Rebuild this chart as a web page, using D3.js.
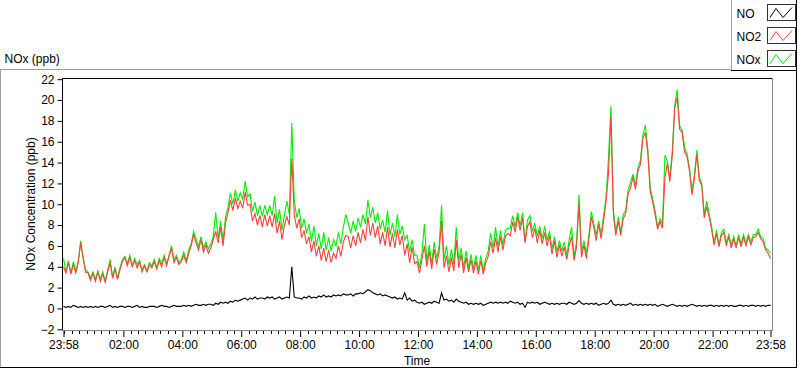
<!DOCTYPE html>
<html><head><meta charset="utf-8">
<script src="https://cdn.jsdelivr.net/npm/d3@7"></script>
<style>
body{margin:0;background:#fff;}
svg{display:block;font-family:"Liberation Sans",Arial,sans-serif;font-size:12px;}
</style></head><body>
<svg id="c" width="800" height="369"></svg>
<script>
// ---- data ----
const seriesNames = ["NO", "NO2", "NOx"];
const seriesColors = ["#000000", "#ff4040", "#00f000"];
const startTime = "2020-01-01T23:58:00";
const stepMinutes = 5;

const no2 = [
 4.0,3.4,4.4,3.3,4.2,3.4,4.4,6.3,4.8,3.5,3.4,2.7,
 3.4,2.6,3.5,2.6,3.3,2.5,3.5,4.4,2.9,3.8,2.8,3.7,
 4.5,4.9,4.1,4.9,4.0,4.6,3.9,4.5,3.5,4.1,3.5,4.2,
 3.9,4.5,3.8,4.6,4.0,4.9,4.1,5.0,5.8,4.4,4.9,4.2,
 4.5,5.1,4.4,5.3,6.0,7.1,6.3,5.6,6.6,5.4,6.1,5.3,
 5.8,6.6,7.4,6.3,7.8,6.0,8.2,9.2,10.4,9.4,10.6,9.6,
 10.3,9.6,11.2,9.9,10.0,8.4,9.1,8.0,8.9,7.8,9.0,7.9,
 8.9,7.8,9.1,7.2,8.4,6.6,8.0,8.8,8.0,14.4,9.0,7.7,
 8.6,6.8,7.5,6.2,6.9,5.4,6.5,5.0,6.0,4.6,5.8,4.5,
 5.6,4.4,5.3,4.8,6.0,5.0,6.4,7.0,6.9,5.8,7.0,6.0,
 7.3,6.3,7.6,6.5,8.8,7.0,8.2,6.8,7.9,6.2,7.3,6.0,
 7.8,5.9,7.2,5.8,7.6,6.1,7.0,5.1,6.2,4.4,5.9,4.3,
 4.5,3.4,4.7,6.0,4.0,5.5,3.8,5.7,4.2,5.4,8.4,3.9,
 5.1,3.5,4.9,3.6,6.6,3.9,5.2,3.4,4.9,3.5,4.7,3.4,
 4.6,3.3,4.6,3.3,4.4,5.0,6.4,5.3,6.8,5.4,6.9,5.6,
 6.9,7.2,7.0,8.3,7.3,8.8,7.5,8.7,6.3,7.9,8.3,6.8,
 7.7,6.3,7.5,6.2,7.3,6.0,7.0,5.2,6.5,4.9,6.1,5.0,
 5.9,4.7,6.0,6.9,4.6,5.9,10.1,4.9,6.1,4.8,6.6,8.8,
 7.8,6.5,8.1,6.7,8.4,10.2,13.0,18.5,9.0,7.0,8.4,7.0,
 8.6,9.1,11.0,11.6,12.6,11.4,13.2,13.8,16.3,16.9,15.0,11.2,
 10.2,9.0,7.6,8.3,7.7,12.6,13.9,12.2,14.7,19.2,20.3,17.2,
 16.9,15.0,14.6,13.2,10.9,12.5,14.8,12.3,11.8,8.7,9.8,8.8,
 7.6,6.1,7.2,5.9,7.0,7.3,6.0,6.9,5.8,6.7,5.8,6.8,
 5.9,6.9,6.0,6.9,6.1,6.8,6.9,7.3,6.7,6.4,5.6,5.3,
 4.8
];

const nox = [
 4.8,3.5,4.6,3.4,4.5,3.6,4.5,6.5,4.9,3.7,3.5,2.9,
 3.5,2.8,3.6,2.8,3.5,2.6,3.7,4.7,3.0,4.0,2.9,3.9,
 4.7,5.0,4.3,5.1,4.1,4.8,4.2,4.6,3.7,4.2,3.6,4.4,
 4.1,4.7,3.9,4.8,4.3,5.1,4.3,5.1,6.0,4.7,5.1,4.4,
 4.7,5.4,4.6,5.6,6.2,7.4,6.7,5.9,6.9,5.8,6.4,5.7,
 6.2,6.9,9.2,6.7,8.4,6.5,8.8,9.7,11.1,10.0,11.4,10.3,
 11.1,10.5,12.2,10.7,11.0,9.3,10.2,8.9,9.9,8.8,9.9,9.0,
 9.9,8.9,10.8,8.2,9.5,7.5,9.0,10.3,9.0,17.8,10.4,8.7,
 9.6,7.7,8.6,7.2,8.1,6.4,7.9,6.0,7.2,5.7,7.3,5.6,
 6.8,5.5,6.6,6.0,7.3,6.2,7.8,9.0,8.2,7.2,8.4,7.4,
 8.7,7.8,9.0,8.1,10.4,8.7,9.7,8.2,9.2,7.6,8.5,7.3,
 9.4,7.0,8.2,6.9,9.0,7.1,7.9,6.6,7.0,5.4,6.6,5.1,
 5.1,3.9,5.3,8.1,4.5,6.1,4.3,6.4,4.8,5.9,9.9,4.7,
 6.0,4.2,5.7,4.2,7.8,4.6,5.8,3.9,5.5,3.9,5.2,3.8,
 5.1,3.7,5.1,3.6,4.8,5.5,7.2,5.8,7.8,5.9,7.5,6.1,
 7.5,7.7,7.7,8.9,7.8,9.2,7.9,9.2,6.4,8.5,8.9,7.4,
 8.2,6.9,7.9,6.7,7.9,6.5,7.4,5.7,6.9,5.4,6.5,5.5,
 6.4,5.1,6.6,7.8,5.0,6.4,10.9,5.4,6.5,5.3,7.0,9.3,
 8.2,7.0,8.4,7.1,8.9,10.6,14.4,19.4,9.4,7.3,8.8,7.3,
 9.0,9.4,11.4,12.1,12.9,11.8,13.5,14.2,16.6,17.6,15.3,11.6,
 10.5,9.4,7.8,8.6,8.1,14.7,14.1,12.5,15.1,19.5,21.0,17.5,
 17.1,15.5,14.8,13.5,11.3,12.8,15.2,12.6,12.0,9.0,10.3,9.1,
 7.9,6.3,7.5,6.1,7.3,7.6,6.3,7.1,6.1,6.9,6.0,7.1,
 6.2,7.1,6.3,7.1,6.4,7.1,7.1,7.6,6.9,6.7,5.8,5.6,
 5.3
];

const no = [
 0.2,0.1,0.2,0.1,0.3,0.2,0.1,0.2,0.1,0.2,0.1,0.2,
 0.1,0.2,0.1,0.2,0.2,0.1,0.2,0.3,0.1,0.2,0.1,0.2,
 0.2,0.1,0.2,0.2,0.1,0.2,0.3,0.1,0.2,0.1,0.1,0.2,
 0.2,0.2,0.1,0.2,0.3,0.2,0.2,0.1,0.2,0.3,0.2,0.2,
 0.2,0.3,0.2,0.3,0.2,0.3,0.4,0.3,0.3,0.4,0.3,0.4,
 0.4,0.3,0.5,0.4,0.6,0.5,0.6,0.5,0.7,0.6,0.8,0.7,
 0.8,0.9,1.0,0.8,1.0,0.9,1.1,0.9,1.0,1.0,0.9,1.1,
 1.0,1.1,0.9,1.0,1.1,0.9,1.0,1.1,1.0,4.0,1.1,1.0,
 1.0,0.9,1.1,1.0,1.2,1.0,1.1,1.0,1.2,1.1,1.3,1.1,
 1.2,1.1,1.3,1.2,1.3,1.2,1.4,1.3,1.3,1.4,1.2,1.4,
 1.4,1.5,1.4,1.6,1.8,1.7,1.5,1.4,1.3,1.4,1.2,1.3,
 1.2,1.1,1.0,1.1,0.9,1.0,0.9,1.5,0.8,1.0,0.7,0.8,
 0.6,0.5,0.6,0.4,0.5,0.6,0.5,0.7,0.6,0.5,1.5,0.8,
 0.9,0.7,0.8,0.6,0.9,0.7,0.6,0.5,0.6,0.4,0.5,0.4,
 0.5,0.4,0.5,0.3,0.4,0.5,0.6,0.5,0.6,0.5,0.6,0.5,
 0.6,0.5,0.7,0.6,0.5,0.6,0.4,0.5,0.1,0.6,0.5,0.6,
 0.5,0.6,0.4,0.5,0.6,0.5,0.4,0.5,0.4,0.5,0.4,0.5,
 0.5,0.4,0.6,0.5,0.4,0.5,0.75,0.5,0.4,0.5,0.4,0.5,
 0.4,0.5,0.3,0.4,0.5,0.4,0.5,0.8,0.4,0.3,0.4,0.3,
 0.4,0.3,0.4,0.5,0.3,0.4,0.3,0.4,0.3,0.4,0.3,0.4,
 0.3,0.4,0.2,0.3,0.4,0.3,0.2,0.3,0.4,0.3,0.2,0.3,
 0.2,0.3,0.2,0.3,0.4,0.3,0.2,0.3,0.2,0.3,0.2,0.3,
 0.3,0.2,0.3,0.2,0.3,0.2,0.3,0.2,0.3,0.2,0.2,0.3,
 0.3,0.2,0.3,0.2,0.3,0.3,0.2,0.3,0.2,0.3,0.2,0.3,
 0.3
];

const yTicks = [-2, 0, 2, 4, 6, 8, 10, 12, 14, 16, 18, 20, 22];
const xTickLabels = ["23:58", "02:00", "04:00", "06:00", "08:00", "10:00", "12:00",
                     "14:00", "16:00", "18:00", "20:00", "22:00", "23:58"];
const yTitle = "NOx Concentration (ppb)";
const xTitle = "Time";
const chartTitle = "NOx (ppb)";

// ---- build ----
const t0 = new Date(startTime);
const t1 = d3.timeMinute.offset(t0, stepMinutes * (no2.length - 1));
const times = no2.map((_, i) => d3.timeMinute.offset(t0, i * stepMinutes));
const day2 = d3.timeDay.ceil(t0);
const xTickDates = xTickLabels.map((lab, i) => {
  if (i === 0) return t0;
  if (i === xTickLabels.length - 1) return t1;
  const [hh, mm] = lab.split(":").map(Number);
  return new Date(day2.getFullYear(), day2.getMonth(), day2.getDate(), hh, mm);
});

const svg = d3.select("#c");
const PL = 62.5, PT = 78.5, PR = 772.5, PB = 330.5;

const x = d3.scaleTime().domain([t0, t1]).range([63.5, 770.5]);
const y = d3.scaleLinear().domain([-2, 22]).range([329.3, 79.2]);

// outer frame
svg.append("line").attr("x1", 0).attr("x2", 732).attr("y1", 69.5).attr("y2", 69.5).attr("stroke", "#a0a0a0");
svg.append("line").attr("x1", 0.5).attr("x2", 0.5).attr("y1", 69.5).attr("y2", 368).attr("stroke", "#a0a0a0");
svg.append("line").attr("x1", 0).attr("x2", 797).attr("y1", 367.5).attr("y2", 367.5).attr("stroke", "#000");
svg.append("line").attr("x1", 796.5).attr("x2", 796.5).attr("y1", 0).attr("y2", 368).attr("stroke", "#000");

// legend box
svg.append("line").attr("x1", 731.5).attr("x2", 731.5).attr("y1", 0).attr("y2", 71).attr("stroke", "#a0a0a0");
svg.append("line").attr("x1", 731).attr("x2", 797).attr("y1", 70.5).attr("y2", 70.5).attr("stroke", "#000");

const legY = [4, 27, 50];
seriesNames.forEach((name, i) => {
  const g = svg.append("g").attr("transform", `translate(0,${legY[i]})`);
  g.append("text").attr("x", 736.5).attr("y", 13.5).attr("fill", "#000").text(name);
  g.append("rect").attr("x", 767.5).attr("y", 0.5).attr("width", 28).attr("height", 16)
    .attr("fill", "#fff").attr("stroke", "#333");
  g.append("path").attr("d", "M770,13.5L776,4.5L783,13.5L792,3.5")
    .attr("fill", "none").attr("stroke", seriesColors[i]).attr("stroke-width", 1);
});

// title
svg.append("text").attr("x", 4.5).attr("y", 63).attr("fill", "#000").text(chartTitle);

// plot background
svg.append("rect").attr("x", PL).attr("y", PT).attr("width", PR - PL).attr("height", PB - PT).attr("fill", "#fff");

svg.append("clipPath").attr("id", "clip").append("rect")
  .attr("x", PL + 0.5).attr("y", PT + 0.5).attr("width", PR - PL - 1).attr("height", PB - PT - 1);

const line = d3.line().x((d, i) => x(times[i])).y(d => y(d));
const plot = svg.append("g").attr("clip-path", "url(#clip)");
[[no, seriesColors[0]], [nox, seriesColors[2]], [no2, seriesColors[1]]].forEach(([arr, col]) => {
  plot.append("path").datum(arr).attr("d", line)
    .attr("fill", "none").attr("stroke", col).attr("stroke-width", 1.1)
    .attr("stroke-linejoin", "miter");
});

// plot frame
svg.append("line").attr("x1", PL - 0.5).attr("x2", PR).attr("y1", PT).attr("y2", PT).attr("stroke", "#000");
svg.append("line").attr("x1", PL).attr("x2", PL).attr("y1", PT).attr("y2", PB).attr("stroke", "#000");
svg.append("line").attr("x1", PL).attr("x2", PR + 0.5).attr("y1", PB).attr("y2", PB).attr("stroke", "#888");
svg.append("line").attr("x1", PR).attr("x2", PR).attr("y1", PT).attr("y2", PB).attr("stroke", "#888");

// y axis
const yAxis = d3.axisLeft(y).tickValues(yTicks).tickSize(5).tickPadding(3).tickFormat(d3.format("d"));
const gy = svg.append("g").attr("transform", `translate(${PL},0)`).call(yAxis);
gy.select(".domain").remove();
gy.selectAll("line").attr("stroke", "#000");
gy.selectAll("text").attr("fill", "#000").style("font-size", "12px").style("font-family", "Liberation Sans, Arial, sans-serif");

// x axis: minor ticks
const minor = d3.timeMinute.every(15).range(t0, t1).filter(d => !xTickDates.some(m => Math.abs(m - d) < 60000));
svg.append("g").selectAll("line").data(minor).join("line")
  .attr("x1", d => Math.round(x(d)) + 0.5).attr("x2", d => Math.round(x(d)) + 0.5)
  .attr("y1", PB + 0.5).attr("y2", PB + 3.5).attr("stroke", "#000");

const xAxis = d3.axisBottom(x).tickValues(xTickDates).tickSize(6).tickPadding(3)
  .tickFormat((d, i) => xTickLabels[i]);
const gx = svg.append("g").attr("transform", `translate(0,${PB + 0.5})`).call(xAxis);
gx.select(".domain").remove();
gx.selectAll("line").attr("stroke", "#000");
gx.selectAll("text").attr("fill", "#000").style("font-size", "12px").style("font-family", "Liberation Sans, Arial, sans-serif");

// axis titles
svg.append("text").attr("transform", "translate(34.5,204) rotate(-90)").attr("text-anchor", "middle")
  .attr("fill", "#000").text(yTitle);
svg.append("text").attr("x", 417).attr("y", 365).attr("text-anchor", "middle").attr("fill", "#000").text(xTitle);
</script>
</body></html>
